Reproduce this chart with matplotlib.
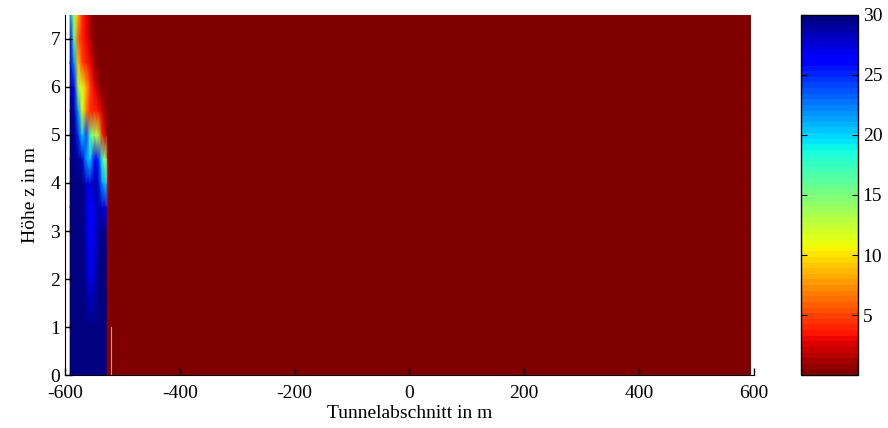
import matplotlib.pyplot as plt
import numpy as np

# Stuetzstellen des Feldes (Tunnelabschnitt in m, Hoehe z in m)
x_nodes = [-591, -584, -577, -570, -563, -556, -549, -542, -535, -528, -525, -521, 594]
z_nodes = [0, 1, 2, 3, 3.5, 4, 4.5, 5, 5.5, 6, 6.5, 7, 7.5]

# Werte je Hoehe (Zeile) und Abschnitt (Spalte)
values = [
    [30, 30, 30, 30, 30, 30, 30, 30, 30, 30, 0.9, 0.3, 0.2],
    [30, 30, 30, 30, 30, 30, 30, 30, 30, 30, 0.9, 0.3, 0.2],
    [30, 30, 30, 30, 29, 27, 28, 30, 30, 30, 0.9, 0.3, 0.2],
    [30, 30, 30, 30, 28, 26, 27, 29, 30, 29, 0.9, 0.3, 0.2],
    [30, 30, 30, 30, 28, 26, 27, 29, 28, 26, 0.9, 0.3, 0.2],
    [30, 30, 30, 30, 28, 27, 29, 28, 22, 20, 2.0, 0.3, 0.2],
    [30, 30, 29, 28, 22, 20, 26, 25, 18, 14, 1.5, 0.3, 0.2],
    [30, 30, 25, 20, 24, 16, 14, 13, 4, 1.5, 0.3, 0.2, 0.2],
    [30, 29, 22, 12, 7, 4, 4, 3.5, 2, 0.5, 0.2, 0.2, 0.2],
    [29, 26, 14, 11, 8, 5, 3, 1, 0.3, 0.2, 0.2, 0.2, 0.2],
    [28, 22, 9, 5, 4, 3, 1, 0.3, 0.2, 0.2, 0.2, 0.2, 0.2],
    [27, 16, 6, 4, 3, 1.5, 0.3, 0.2, 0.2, 0.2, 0.2, 0.2, 0.2],
    [22, 13, 8, 4, 3, 1, 0.3, 0.2, 0.2, 0.2, 0.2, 0.2, 0.2],
]

# duenne helle Linie am Rand des Bereichs
line_x = -520
line_z = [0, 1]

xticks = [-600, -400, -200, 0, 200, 400, 600]
zticks = [0, 1, 2, 3, 4, 5, 6, 7]
cticks = [5, 10, 15, 20, 25, 30]

plt.rcParams['font.family'] = ['Liberation Serif', 'DejaVu Serif']
plt.rcParams['font.size'] = 14
plt.rcParams['axes.unicode_minus'] = False

fig = plt.figure(figsize=(8.88, 4.28), dpi=100)
ax = fig.add_axes([0.0732, 0.1238, 0.7758, 0.8412])
cax = fig.add_axes([0.902, 0.1238, 0.064, 0.8412])

cmap = plt.get_cmap('jet_r', 64)
X, Z = np.meshgrid(x_nodes, z_nodes)
pc = ax.pcolormesh(X, Z, np.array(values), shading='gouraud', cmap=cmap, vmin=0, vmax=30)
ax.plot([line_x, line_x], line_z, color='#d89090', lw=0.8)

ax.set_xlim(-600, 600)
ax.set_ylim(0, 7.5)
ax.set_xticks(xticks)
ax.set_yticks(zticks)
ax.spines['top'].set_visible(False)
ax.spines['right'].set_visible(False)
ax.tick_params(direction='in', length=5, width=1)
ax.tick_params(axis='x', pad=7)
ax.set_xlabel("Tunnelabschnitt in m", labelpad=2)
ax.set_ylabel("Höhe z in m", labelpad=8)

cb = fig.colorbar(pc, cax=cax)
cb.set_ticks(cticks)
cb.outline.set_linewidth(1)
cax.tick_params(direction='in', length=4, left=True, right=True)

fig.savefig("out.png", dpi=100)
